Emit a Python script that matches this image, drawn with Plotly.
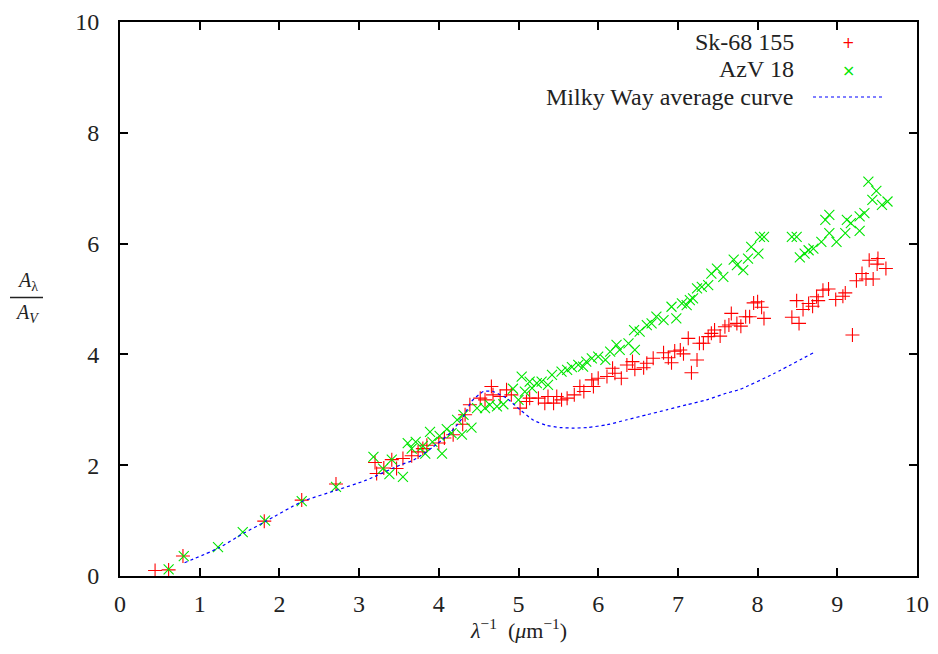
import plotly.graph_objects as go

# Sk-68 155
sk_x = [0.44, 0.61, 0.79, 1.81, 2.28, 2.71, 3.20, 3.22, 3.31, 3.41, 3.47, 3.55, 3.66, 3.74, 3.80, 3.85,
        4.00, 4.07, 4.18, 4.30, 4.33, 4.39, 4.52, 4.58, 4.66, 4.68, 4.77, 4.85, 4.91, 5.02, 5.10, 5.14,
        5.25, 5.33, 5.37, 5.44, 5.48, 5.54, 5.61, 5.70, 5.77, 5.82, 5.92, 5.94, 6.00, 6.11, 6.18, 6.21,
        6.29, 6.36, 6.43, 6.46, 6.57, 6.61, 6.69, 6.82, 6.88, 6.92, 6.96, 7.03, 7.07, 7.13, 7.17, 7.24,
        7.27, 7.32, 7.38, 7.42, 7.46, 7.53, 7.59, 7.64, 7.67, 7.74, 7.79, 7.85, 7.90, 7.95, 8.00, 8.05,
        8.08, 8.43, 8.49, 8.52, 8.57, 8.64, 8.69, 8.74, 8.76, 8.82, 8.89, 8.98, 9.07, 9.10, 9.19, 9.24,
        9.31, 9.36, 9.40, 9.45, 9.50, 9.51, 9.61]
sk_y = [0.10, 0.11, 0.36, 0.99, 1.37, 1.66, 2.05, 1.85, 1.95, 2.10, 1.94, 2.12, 2.17, 2.24, 2.30, 2.36,
        2.40, 2.49, 2.55, 2.74, 2.91, 3.09, 3.21, 3.18, 3.42, 3.27, 3.24, 3.36, 3.27, 3.03, 3.15, 3.21,
        3.21, 3.12, 3.24, 3.12, 3.24, 3.18, 3.21, 3.27, 3.42, 3.33, 3.54, 3.42, 3.57, 3.60, 3.75, 3.66,
        3.57, 3.81, 3.87, 3.73, 3.76, 3.84, 3.93, 4.03, 3.94, 3.85, 4.06, 4.08, 4.01, 4.29, 3.67, 3.90,
        4.20, 4.20, 4.32, 4.38, 4.44, 4.33, 4.50, 4.53, 4.74, 4.56, 4.51, 4.68, 4.68, 4.93, 4.95, 4.85,
        4.65, 4.67, 4.97, 4.56, 4.81, 4.92, 4.87, 5.04, 4.97, 5.16, 5.18, 4.99, 5.05, 5.11, 4.35, 5.33,
        5.46, 5.36, 5.70, 5.36, 5.63, 5.73, 5.55]

# AzV 18
az_x = [0.61, 0.80, 1.23, 1.54, 1.82, 2.28, 2.71, 3.18, 3.30, 3.38, 3.41, 3.55, 3.61, 3.66, 3.71, 3.80,
        3.83, 3.89, 3.92, 4.01, 4.04, 4.10, 4.16, 4.23, 4.29, 4.31, 4.41, 4.48, 4.58, 4.64, 4.73, 4.81,
        4.93, 5.00, 5.04, 5.08, 5.14, 5.17, 5.23, 5.29, 5.37, 5.42, 5.54, 5.61, 5.67, 5.75, 5.81, 5.85,
        5.92, 6.00, 6.09, 6.15, 6.23, 6.27, 6.38, 6.45, 6.46, 6.52, 6.61, 6.67, 6.73, 6.82, 6.92, 6.98,
        7.05, 7.11, 7.15, 7.19, 7.24, 7.30, 7.38, 7.42, 7.49, 7.57, 7.70, 7.74, 7.82, 7.88, 7.92, 8.01,
        8.03, 8.08, 8.43, 8.49, 8.53, 8.59, 8.64, 8.70, 8.80, 8.85, 8.90, 8.90, 8.99, 9.10, 9.12, 9.17,
        9.28, 9.28, 9.34, 9.39, 9.44, 9.49, 9.56, 9.63]
az_y = [0.12, 0.36, 0.52, 0.79, 1.00, 1.35, 1.61, 2.15, 1.94, 1.84, 2.10, 1.79, 2.40, 2.30, 2.42, 2.35,
        2.21, 2.60, 2.42, 2.53, 2.21, 2.65, 2.58, 2.82, 2.55, 2.91, 2.68, 3.03, 3.03, 3.09, 3.06, 3.10,
        3.38, 3.18, 3.60, 3.33, 3.51, 3.39, 3.48, 3.51, 3.45, 3.63, 3.69, 3.72, 3.77, 3.81, 3.78, 3.87,
        3.93, 3.96, 3.90, 4.05, 4.17, 4.08, 4.20, 4.44, 4.08, 4.41, 4.53, 4.56, 4.68, 4.62, 4.86, 4.65,
        4.92, 4.89, 4.98, 5.01, 5.19, 5.22, 5.25, 5.46, 5.55, 5.40, 5.71, 5.61, 5.52, 5.73, 5.94, 5.82,
        6.12, 6.12, 6.12, 6.12, 5.75, 5.82, 5.88, 5.91, 6.03, 6.43, 6.52, 6.19, 6.03, 6.19, 6.43, 6.37,
        6.23, 6.49, 6.55, 7.12, 6.79, 6.95, 6.70, 6.76]

# Milky Way average curve
mw_x = [0.81, 1.23, 1.55, 1.82, 2.28, 2.72, 3.09, 3.51, 3.68, 3.93, 4.14, 4.31, 4.41, 4.56, 4.68, 4.85,
        5.02, 5.19, 5.35, 5.52, 5.70, 5.86, 6.11, 6.36, 6.61, 6.86, 7.11, 7.36, 7.61, 7.78, 8.20, 8.70]
mw_y = [0.24, 0.50, 0.77, 0.98, 1.34, 1.55, 1.73, 2.00, 2.09, 2.33, 2.58, 2.88, 3.15, 3.33, 3.33, 3.21,
        3.00, 2.81, 2.72, 2.68, 2.67, 2.68, 2.73, 2.82, 2.91, 3.00, 3.09, 3.18, 3.30, 3.37, 3.65, 4.03]

x_ticks = [0, 1, 2, 3, 4, 5, 6, 7, 8, 9, 10]
y_ticks = [0, 2, 4, 6, 8, 10]

RED = "#ff0000"
GREEN = "#00e600"
BLUE = "#0000ff"
FONT = "Liberation Serif, DejaVu Serif, serif"
TXT = "#222222"

# target plot box in window pixels; the page body is offset by 8px
OFF = 8
L, R, T, B = 120, 917, 22, 576
FW, FH = 938 - 2 * OFF, 654 - 2 * OFF
PW, PH = R - L, B - T


def px(xw):
    return (xw - L) / PW


def py(yw):
    return (B - yw) / PH


fig = go.Figure()
fig.add_trace(go.Scatter(x=sk_x, y=sk_y, mode="markers", name="Sk-68 155",
                         marker=dict(symbol="cross-thin", size=10, line=dict(color=RED, width=1.1))))
fig.add_trace(go.Scatter(x=az_x, y=az_y, mode="markers", name="AzV 18",
                         marker=dict(symbol="x-thin", size=10, line=dict(color=GREEN, width=1.1))))
fig.add_trace(go.Scatter(x=mw_x, y=mw_y, mode="lines", name="Milky Way average curve",
                         line=dict(color=BLUE, width=1.2, dash="3px,3px", shape="spline", smoothing=0.6)))

axis_common = dict(showline=True, linecolor="black", linewidth=2, mirror="allticks",
                   ticks="inside", ticklen=8, tickwidth=1.5, tickcolor="black",
                   showgrid=False, zeroline=False, automargin=False,
                   ticklabeloverflow="allow",
                   tickfont=dict(family=FONT, size=24, color=TXT))

fig.update_xaxes(range=[0, 10], tickvals=x_ticks, ticktext=[str(v) for v in x_ticks],
                 ticklabelstandoff=5, **axis_common)
fig.update_yaxes(range=[0, 10], tickvals=y_ticks, ticktext=[str(v) for v in y_ticks],
                 ticklabelstandoff=14, **axis_common)

# Legend (gnuplot style: text right-aligned, sample on the right)
legend_font = dict(family=FONT, size=24, color=TXT)
legend_rows = [("Sk-68 155", 42), ("AzV 18", 69), ("Milky Way average curve", 97)]
for txt, yy in legend_rows:
    fig.add_annotation(xref="paper", yref="paper", x=px(796), y=py(yy),
                       text=txt, showarrow=False, xanchor="right", yanchor="middle", font=legend_font)
fig.add_annotation(xref="paper", yref="paper", x=px(848), y=py(43),
                   text="+", showarrow=False, xanchor="center", yanchor="middle",
                   font=dict(family="DejaVu Sans", size=15, color=RED))
fig.add_annotation(xref="paper", yref="paper", x=px(848), y=py(70),
                   text="×", showarrow=False, xanchor="center", yanchor="middle",
                   font=dict(family="DejaVu Sans", size=16, color=GREEN))
fig.add_shape(type="line", xref="paper", yref="paper",
              x0=px(813), x1=px(883), y0=py(97), y1=py(97),
              line=dict(color=BLUE, width=1.2, dash="3px,3px"))

# Y axis title: A_lambda / A_V fraction
fig.add_annotation(xref="paper", yref="paper", x=px(27), y=py(296),
                   text="<i>A</i><sub>λ</sub>", showarrow=False, xanchor="center", yanchor="bottom",
                   font=dict(family=FONT, size=20, color=TXT))
fig.add_annotation(xref="paper", yref="paper", x=px(27), y=py(299),
                   text="<i>A</i><sub><i>V</i></sub>", showarrow=False, xanchor="center", yanchor="top",
                   font=dict(family=FONT, size=20, color=TXT))
fig.add_shape(type="line", xref="paper", yref="paper",
              x0=px(10), x1=px(43), y0=py(297.5), y1=py(297.5),
              line=dict(color=TXT, width=1.5))

# X axis title
fig.add_annotation(xref="paper", yref="paper", x=px(518), y=py(629),
                   text="<i>λ</i><sup>−1</sup>  (<i>μ</i>m<sup>−1</sup>)", showarrow=False,
                   xanchor="center", yanchor="middle", font=dict(family=FONT, size=22, color=TXT))

fig.update_layout(width=FW, height=FH, showlegend=False, template="none",
                  margin=dict(l=L - OFF, r=FW + OFF - R, t=T - OFF, b=FH + OFF - B),
                  plot_bgcolor="white", paper_bgcolor="white")

fig.write_html("out.html")
